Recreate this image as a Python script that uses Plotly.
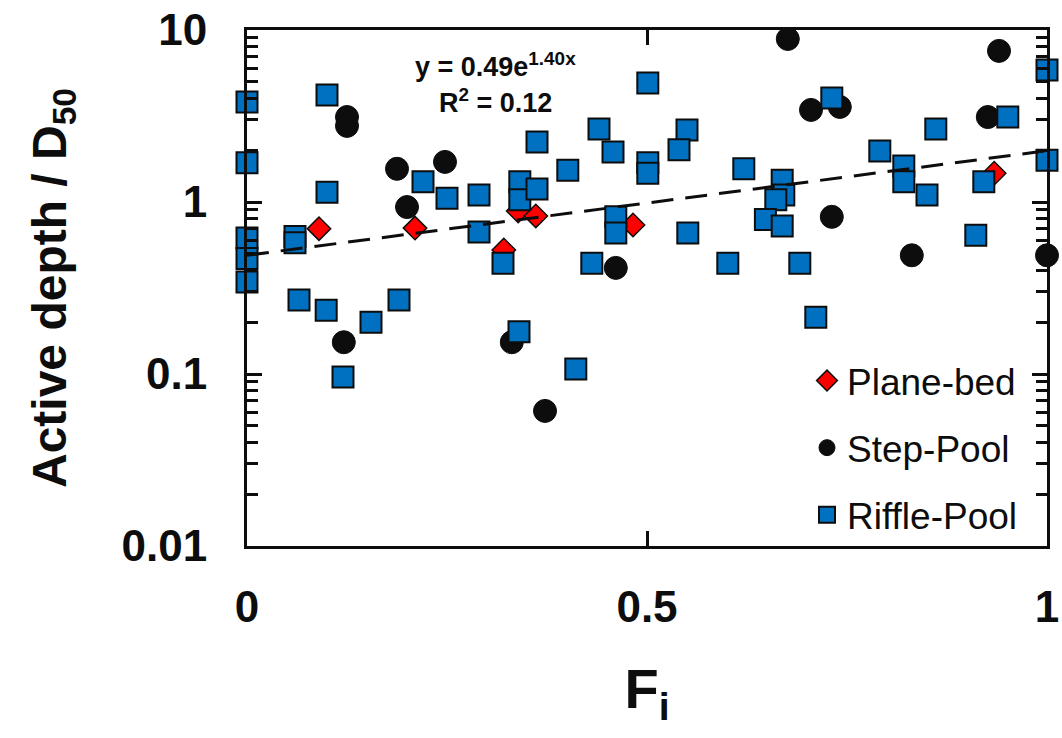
import numpy as np
import plotly.graph_objects as go

# Plane-bed reaches
plane_fi = [0.09, 0.21, 0.321, 0.339, 0.361, 0.4825, 0.934]
plane_ad = [0.70, 0.705, 0.526, 0.886, 0.83, 0.735, 1.47]

# Step-pool reaches
step_fi = [0.125, 0.125, 0.1875, 0.2475, 0.20, 0.121, 0.331, 0.3725, 0.461,
           0.676, 0.705, 0.741, 0.731, 0.831, 0.926, 0.94, 1.0]
step_ad = [3.12, 2.77, 1.56, 1.71, 0.935, 0.153, 0.153, 0.061, 0.414,
           8.87, 3.43, 3.57, 0.82, 0.49, 3.12, 7.56, 0.49]

# Riffle-pool reaches
riffle_fi = [0.0, 0.0, 0.0, 0.0, 0.0, 0.10, 0.10, 0.06, 0.06, 0.065,
             0.099, 0.155, 0.19, 0.12, 0.22, 0.25, 0.29, 0.29, 0.341, 0.341,
             0.3625, 0.3625, 0.401, 0.32, 0.34, 0.411, 0.44, 0.4575, 0.431, 0.461,
             0.461, 0.501, 0.501, 0.501, 0.55, 0.54, 0.551, 0.601, 0.621, 0.669,
             0.671, 0.661, 0.648, 0.669, 0.691, 0.711, 0.731, 0.791, 0.821, 0.821,
             0.85, 0.861, 0.911, 0.921, 0.951, 1.0, 1.0]
riffle_ad = [3.81, 1.69, 0.618, 0.47, 0.343, 4.19, 1.14, 0.63, 0.58, 0.269,
             0.235, 0.20, 0.269, 0.096, 1.31, 1.05, 1.10, 0.67, 1.31, 1.03,
             1.19, 2.23, 1.53, 0.44, 0.176, 0.107, 2.66, 1.95, 0.44, 0.82,
             0.66, 4.92, 1.69, 1.47, 2.62, 2.01, 0.66, 0.44, 1.56, 1.34,
             1.10, 1.03, 0.79, 0.725, 0.44, 0.214, 4.02, 1.98, 1.62, 1.31,
             1.10, 2.66, 0.64, 1.31, 3.12, 5.85, 1.75]

# Exponential fit y = a * exp(b * x)
fit_a = 0.49
fit_b = 1.40
fit_r2 = 0.12

x_ticks = [0, 0.5, 1]
x_tick_text = ["0", "0.5", "1"]
y_ticks = [0.01, 0.1, 1, 10]
y_tick_text = ["0.01", "0.1", "1", "10"]

FONT = "Liberation Sans, Arial, sans-serif"
INK = "#0d0d0d"

fig = go.Figure()

fig.add_trace(go.Scatter(
    x=plane_fi, y=plane_ad, mode="markers", name="Plane-bed",
    legendgroup="pb", cliponaxis=False,
    marker=dict(symbol="diamond", size=18, color="#ff0000",
                line=dict(color=INK, width=1.5)),
))
fig.add_trace(go.Scatter(
    x=step_fi, y=step_ad, mode="markers", name="Step-Pool",
    legendgroup="sp", cliponaxis=False,
    marker=dict(symbol="circle", size=23, color=INK,
                line=dict(color=INK, width=1)),
))
fig.add_trace(go.Scatter(
    x=riffle_fi, y=riffle_ad, mode="markers", name="Riffle-Pool",
    legendgroup="rp", cliponaxis=False,
    marker=dict(symbol="square", size=21, color="#0070c0",
                line=dict(color=INK, width=2)),
))

# Trend line of the exponential fit
fit_x = np.linspace(0, 1, 60)
fit_y = fit_a * np.exp(fit_b * fit_x)
fig.add_trace(go.Scatter(
    x=fit_x, y=fit_y, mode="lines", showlegend=False,
    line=dict(color=INK, width=3, dash="22px,12px"),
))

fig.add_annotation(
    x=0.311, y=0.932, xref="paper", yref="paper", showarrow=False,
    xanchor="center", yanchor="middle",
    text=f"<b>y = {fit_a:.2f}e<sup>{fit_b:.2f}x</sup></b>",
    font=dict(family=FONT, size=27, color=INK),
)
fig.add_annotation(
    x=0.311, y=0.862, xref="paper", yref="paper", showarrow=False,
    xanchor="center", yanchor="middle",
    text=f"<b>R<sup>2</sup> = {fit_r2:.2f}</b>",
    font=dict(family=FONT, size=27, color=INK),
)

axis_common = dict(
    showline=True, linecolor=INK, linewidth=3, mirror="ticks",
    ticks="inside", tickcolor=INK, tickwidth=3, ticklen=15,
    showgrid=False, zeroline=False,
    tickfont=dict(family=FONT, size=44, color=INK, weight="bold"),
)

fig.update_xaxes(
    range=[0, 1], tickvals=x_ticks, ticktext=x_tick_text,
    ticklabelstandoff=20,
    title=dict(text="<b>F<sub>i</sub></b>", font=dict(family=FONT, size=56, color=INK),
               standoff=40),
    **axis_common,
)
fig.update_yaxes(
    type="log", range=[-2, 1], tickvals=y_ticks, ticktext=y_tick_text,
    ticklabelstandoff=28,
    minor=dict(ticks="inside", ticklen=11, tickwidth=3, tickcolor=INK, dtick="D1"),
    title=dict(text="<b>Active depth / D<sub>50</sub></b>",
               font=dict(family=FONT, size=48, color=INK), standoff=40),
    **axis_common,
)

fig.update_layout(
    width=1062, height=738,
    margin=dict(l=247, r=15, t=30, b=192, autoexpand=False),
    paper_bgcolor="white", plot_bgcolor="white",
    showlegend=True,
    legend=dict(
        x=0.70, y=0.0, xanchor="left", yanchor="bottom",
        bgcolor="rgba(0,0,0,0)", tracegroupgap=16,
        font=dict(family=FONT, size=37, color=INK),
        itemsizing="trace",
    ),
)

fig.write_html("out.html")
